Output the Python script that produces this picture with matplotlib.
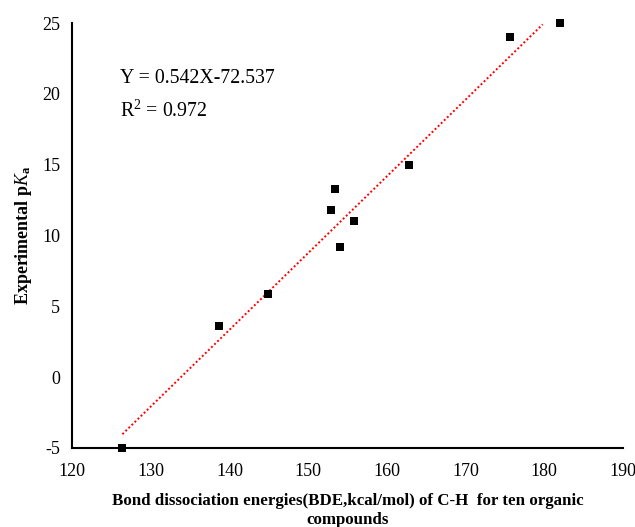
import numpy as np
import matplotlib.pyplot as plt

plt.rcParams['font.family'] = ['Liberation Serif', 'DejaVu Serif']
plt.rcParams['mathtext.fontset'] = 'custom'
plt.rcParams['mathtext.rm'] = 'Liberation Serif'
plt.rcParams['mathtext.it'] = 'Liberation Serif:italic'
plt.rcParams['mathtext.bf'] = 'Liberation Serif:bold'
plt.rcParams['axes.unicode_minus'] = False

# C-H bond dissociation energies (kcal/mol) and experimental pKa
bde = [126.4, 138.7, 144.9, 152.9, 153.4, 154.0, 155.8, 162.8, 175.7, 182.0]
pka = [-5.0, 3.6, 5.9, 11.8, 13.3, 9.2, 11.0, 15.0, 24.0, 25.0]

slope = 0.542
intercept = -72.537
r2 = 0.972

fig = plt.figure(figsize=(6.35, 5.27), dpi=100)
ax = fig.add_axes([0.1134, 0.150, 0.8677, 0.806])

# trendline
xs = np.array([min(bde), 179.8])
ax.plot(xs, slope * xs + intercept, color='red', linestyle=(0, (1, 1.2)), linewidth=1.4)
ax.plot(bde, pka, linestyle='none', marker='s', markersize=5.8, markeredgewidth=0,
        color='black', clip_on=False)

ax.set_xlim(120, 190)
ax.set_ylim(-5, 25)
ax.set_xticks(np.arange(120, 191, 10))
ax.set_yticks(np.arange(-5, 26, 5))
ax.tick_params(length=0, labelsize=13)
ax.tick_params(axis='x', pad=11)
ax.tick_params(axis='y', pad=8.5)
ax.spines['top'].set_visible(False)
ax.spines['right'].set_visible(False)
ax.spines['left'].set_linewidth(1.5)
ax.spines['bottom'].set_linewidth(1.5)

ax.set_xlabel('Bond dissociation energies(BDE,kcal/mol) of C-H  for ten organic\ncompounds',
              fontsize=12.2, fontweight='bold', labelpad=9, linespacing=1.3)
ax.set_ylabel(r'Experimental p$\mathbf{\mathit{K}}_{\mathbf{a}}$', fontsize=13,
              fontweight='bold', labelpad=6)

ax.text(0.087, 0.86, 'Y = 0.542X-72.537', transform=ax.transAxes, fontsize=14.3)
ax.text(0.087, 0.78, r'R$^2$ = ' + str(r2), transform=ax.transAxes, fontsize=14.3)

fig.savefig('out.png', dpi=100)
